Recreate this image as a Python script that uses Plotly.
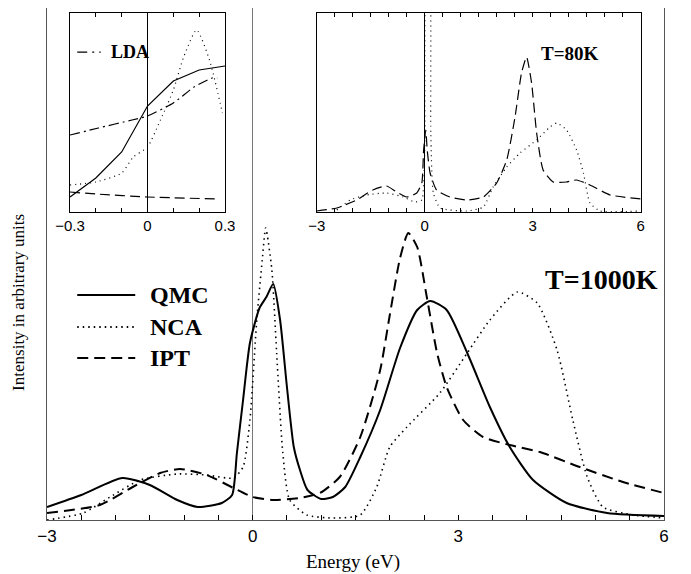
import plotly.graph_objects as go

# ---------------- main panel (T=1000K) ----------------
qmc_x = [-3, -2.5, -1.9, -1.5, -1.1, -0.8, -0.45, -0.3, -0.23, -0.14, -0.04, 0.1, 0.2, 0.3, 0.4, 0.5, 0.6, 0.69, 0.8, 1.0, 1.17, 1.35, 1.57, 1.86, 2.15, 2.4, 2.59, 2.83, 3.13, 3.46, 3.75, 4.09, 4.58, 5.17, 6]
qmc_y = [0.13, 0.25, 0.42, 0.35, 0.2, 0.13, 0.17, 0.25, 0.67, 1.2, 1.77, 2.12, 2.23, 2.36, 2.0, 1.33, 0.73, 0.5, 0.3, 0.21, 0.23, 0.33, 0.63, 1.1, 1.72, 2.1, 2.19, 2.1, 1.67, 1.13, 0.73, 0.4, 0.17, 0.07, 0.04]

nca_x = [-3, -2.47, -2.08, -1.64, -1.1, -0.67, -0.28, -0.14, -0.04, 0.06, 0.14, 0.19, 0.28, 0.35, 0.44, 0.54, 0.79, 1.17, 1.57, 1.81, 2.0, 2.25, 2.73, 3.13, 3.46, 3.86, 4.15, 4.44, 4.67, 4.88, 5.11, 5.55, 6]
nca_y = [0.0, 0.07, 0.23, 0.4, 0.46, 0.45, 0.42, 0.53, 1.0, 2.0, 2.6, 2.92, 2.5, 1.67, 0.67, 0.2, 0.05, 0.02, 0.05, 0.33, 0.73, 0.93, 1.27, 1.67, 2.0, 2.28, 2.17, 1.7, 1.0, 0.43, 0.13, 0.05, 0.02]

ipt_x = [-3, -2.23, -1.75, -1.35, -1.06, -0.67, -0.28, 0, 0.3, 0.69, 0.98, 1.27, 1.57, 1.86, 2.0, 2.15, 2.27, 2.4, 2.54, 2.69, 2.83, 3.07, 3.36, 3.75, 4.19, 4.77, 5.4, 6]
ipt_y = [0.07, 0.15, 0.33, 0.47, 0.51, 0.45, 0.32, 0.23, 0.2, 0.22, 0.27, 0.43, 0.83, 1.5, 2.05, 2.62, 2.87, 2.73, 2.23, 1.67, 1.33, 1.0, 0.83, 0.75, 0.68, 0.53, 0.38, 0.27]

main_ticks = [-3 + 0.5 * i for i in range(19)]
main_labels = ["\u22123", "0", "3", "6"]

# ---------------- inset 1 (zoom around Fermi level, with LDA) ----------------
in1_qmc_x = [-0.3, -0.2, -0.1, 0.0, 0.1, 0.2, 0.3]
in1_qmc_y = [0.15, 0.34, 0.6, 1.06, 1.31, 1.42, 1.46]

in1_nca_x = [-0.3, -0.2, -0.1, -0.055, 0.0, 0.05, 0.1, 0.14, 0.19, 0.24, 0.29]
in1_nca_y = [0.27, 0.30, 0.39, 0.55, 0.65, 0.92, 1.22, 1.55, 1.82, 1.52, 0.99]

in1_lda_x = [-0.3, -0.19, -0.06, 0.0, 0.1, 0.18, 0.25, 0.27]
in1_lda_y = [0.77, 0.84, 0.92, 0.96, 1.09, 1.25, 1.34, 1.34]

in1_ipt_x = [-0.3, -0.2, 0.0, 0.27]
in1_ipt_y = [0.2, 0.18, 0.15, 0.13]

in1_ticks = [-0.3, -0.2, -0.1, 0.0, 0.1, 0.2, 0.3]
in1_labels = ["\u22120.3", "0", "0.3"]

# ---------------- inset 2 (T=80K) ----------------
in2_ipt_x = [-3, -2.44, -1.89, -1.44, -1.06, -0.78, -0.5, -0.22, -0.08, -0.03, 0.03, 0.07, 0.15, 0.33, 0.7, 1.17, 1.63, 2.0, 2.28, 2.51, 2.69, 2.83, 2.97, 3.11, 3.29, 3.57, 3.94, 4.22, 4.59, 5.15, 6]
in2_ipt_y = [0.01, 0.04, 0.12, 0.22, 0.26, 0.2, 0.15, 0.19, 0.29, 0.62, 0.82, 0.62, 0.39, 0.22, 0.15, 0.12, 0.15, 0.29, 0.52, 0.95, 1.39, 1.55, 1.29, 0.79, 0.42, 0.3, 0.3, 0.32, 0.27, 0.17, 0.13]

in2_nca_x = [-2.44, -2.07, -1.61, -1.06, -0.6, -0.27, -0.08, 0.0, 0.06, 0.12, 0.17, 0.24, 0.43, 1.17, 1.63, 1.9, 2.28, 2.65, 3.11, 3.48, 3.67, 3.94, 4.22, 4.41, 4.59, 4.87, 6]
in2_nca_y = [0.02, 0.12, 0.17, 0.19, 0.15, 0.10, 0.12, 0.62, 2.6, 2.6, 0.79, 0.19, 0.04, 0.01, 0.05, 0.25, 0.45, 0.59, 0.72, 0.85, 0.89, 0.82, 0.62, 0.39, 0.09, 0.01, 0.01]

in2_ticks = [-3 + 0.5 * i for i in range(19)]
in2_labels = ["\u22123", "0", "3", "6"]

legend_names = ["QMC", "NCA", "IPT"]

SERIF = "Liberation Serif"
SANS = "Liberation Sans"


def labels_for(ticks, labelled, texts):
    res = []
    for t in ticks:
        hit = ""
        for v, s in zip(labelled, texts):
            if abs(t - v) < 1e-9:
                hit = s
        res.append(hit)
    return res


fig = go.Figure()

# main curves
fig.add_trace(go.Scatter(x=qmc_x, y=qmc_y, mode="lines", line=dict(color="black", width=2, shape="spline", smoothing=0.6),
                         xaxis="x", yaxis="y", showlegend=False))
fig.add_trace(go.Scatter(x=nca_x, y=nca_y, mode="lines", line=dict(color="black", width=1.6, dash="1.5px,4px", shape="spline", smoothing=0.6),
                         xaxis="x", yaxis="y", showlegend=False))
fig.add_trace(go.Scatter(x=ipt_x, y=ipt_y, mode="lines", line=dict(color="black", width=2, dash="11px,6px", shape="spline", smoothing=0.6),
                         xaxis="x", yaxis="y", showlegend=False))

# inset 1
fig.add_trace(go.Scatter(x=in1_qmc_x, y=in1_qmc_y, mode="lines", line=dict(color="black", width=1.2),
                         xaxis="x2", yaxis="y2", showlegend=False))
fig.add_trace(go.Scatter(x=in1_nca_x, y=in1_nca_y, mode="lines", line=dict(color="black", width=1.2, dash="1px,4px", shape="spline", smoothing=0.6),
                         xaxis="x2", yaxis="y2", showlegend=False))
fig.add_trace(go.Scatter(x=in1_lda_x, y=in1_lda_y, mode="lines", line=dict(color="black", width=1.2, dash="10px,4px,2px,4px", shape="spline", smoothing=0.5),
                         xaxis="x2", yaxis="y2", showlegend=False))
fig.add_trace(go.Scatter(x=in1_ipt_x, y=in1_ipt_y, mode="lines", line=dict(color="black", width=1.2, dash="10px,5px", shape="spline", smoothing=0.5),
                         xaxis="x2", yaxis="y2", showlegend=False))

# inset 2
fig.add_trace(go.Scatter(x=in2_nca_x, y=in2_nca_y, mode="lines", line=dict(color="black", width=1.2, dash="1px,4px", shape="spline", smoothing=0.5),
                         xaxis="x3", yaxis="y3", showlegend=False))
fig.add_trace(go.Scatter(x=in2_ipt_x, y=in2_ipt_y, mode="lines", line=dict(color="black", width=1.2, dash="10px,5px", shape="spline", smoothing=0.5),
                         xaxis="x3", yaxis="y3", showlegend=False))

main_tt = labels_for(main_ticks, [-3, 0, 3, 6], main_labels)
in1_tt = labels_for(in1_ticks, [-0.3, 0.0, 0.3], in1_labels)
in2_tt = labels_for(in2_ticks, [-3, 0, 3, 6], in2_labels)

ax_common = dict(showgrid=False, showline=True, linecolor="black", linewidth=1.2, automargin=False)

fig.update_layout(
    width=683, height=566,
    margin=dict(l=39, r=27, t=0, b=54, pad=0),
    paper_bgcolor="white", plot_bgcolor="white",
    xaxis=dict(domain=[0, 1], range=[-3, 6], tickvals=main_ticks, ticktext=main_tt,
               ticks="inside", ticklen=5, tickcolor="black", mirror=True,
               showgrid=False, showline=True, linecolor="#555555", linewidth=1.4,
               zeroline=True, zerolinecolor="#777777", zerolinewidth=1.4, automargin=False,
               tickfont=dict(family=SANS, size=17, color="black")),
    yaxis=dict(domain=[0, 1], range=[0, 5.12], showticklabels=False, ticks="",
               showgrid=False, showline=True, linecolor="#555555", linewidth=1.4, mirror=True,
               zeroline=False, automargin=False),
    xaxis2=dict(domain=[0.0373, 0.2885], anchor="y2", range=[-0.3, 0.3], tickvals=in1_ticks, ticktext=in1_tt,
                ticks="inside", ticklen=4, tickcolor="black", mirror="ticks",
                zeroline=True, zerolinecolor="black", zerolinewidth=1,
                tickfont=dict(family=SANS, size=15, color="black"), **ax_common),
    yaxis2=dict(domain=[0.6016, 0.9908], anchor="x2", range=[0, 1.993], showticklabels=False, ticks="",
                mirror=True, zeroline=False, **ax_common),
    xaxis3=dict(domain=[0.4371, 0.9622], anchor="y3", range=[-3, 6], tickvals=in2_ticks, ticktext=in2_tt,
                ticks="inside", ticklen=4, tickcolor="black", mirror="ticks",
                zeroline=True, zerolinecolor="black", zerolinewidth=1.4,
                tickfont=dict(family=SANS, size=15, color="black"), **ax_common),
    yaxis3=dict(domain=[0.6016, 0.9908], anchor="x3", range=[0, 1.993], showticklabels=False, ticks="",
                mirror=True, zeroline=False, **ax_common),
)

# axis titles
fig.add_annotation(xref="paper", yref="paper", x=0.496, y=-0.082, text="Energy (eV)", showarrow=False,
                   xanchor="center", yanchor="middle", font=dict(family=SERIF, size=19, color="black"))
fig.add_annotation(xref="paper", yref="paper", x=-0.0454, y=0.426, text="Intensity in arbitrary units", showarrow=False,
                   textangle=-90, xanchor="center", yanchor="middle", font=dict(family=SERIF, size=17, color="black"))

# legend samples (main) drawn as paper-referenced line shapes with labels
leg_y = [0.4395, 0.377, 0.3164]
leg_dash = ["solid", "1.5px,4px", "11px,6px"]
for name, yy, dsh in zip(legend_names, leg_y, leg_dash):
    fig.add_shape(type="line", xref="paper", yref="paper", x0=0.049, x1=0.143, y0=yy, y1=yy,
                  line=dict(color="black", width=2, dash=dsh))
    fig.add_annotation(xref="paper", yref="paper", x=0.163, y=yy, text="<b>%s</b>" % name, showarrow=False,
                       xanchor="left", yanchor="middle", font=dict(family=SERIF, size=24, color="black"))

# LDA legend in inset 1
fig.add_shape(type="line", xref="paper", yref="paper", x0=0.049, x1=0.087, y0=0.914, y1=0.914,
              line=dict(color="black", width=1.2, dash="10px,5px,2px,5px"))
fig.add_annotation(xref="paper", yref="paper", x=0.101, y=0.914, text="<b>LDA</b>", showarrow=False,
                   xanchor="left", yanchor="middle", font=dict(family=SERIF, size=18, color="black"))

fig.add_annotation(xref="paper", yref="paper", x=0.797, y=0.912, text="<b>T=80K</b>", showarrow=False,
                   xanchor="left", yanchor="middle", font=dict(family=SERIF, size=19, color="black"))
fig.add_annotation(xref="paper", yref="paper", x=0.804, y=0.469, text="<b>T=1000K</b>", showarrow=False,
                   xanchor="left", yanchor="middle", font=dict(family=SERIF, size=28, color="black"))

fig.write_html("out.html")
